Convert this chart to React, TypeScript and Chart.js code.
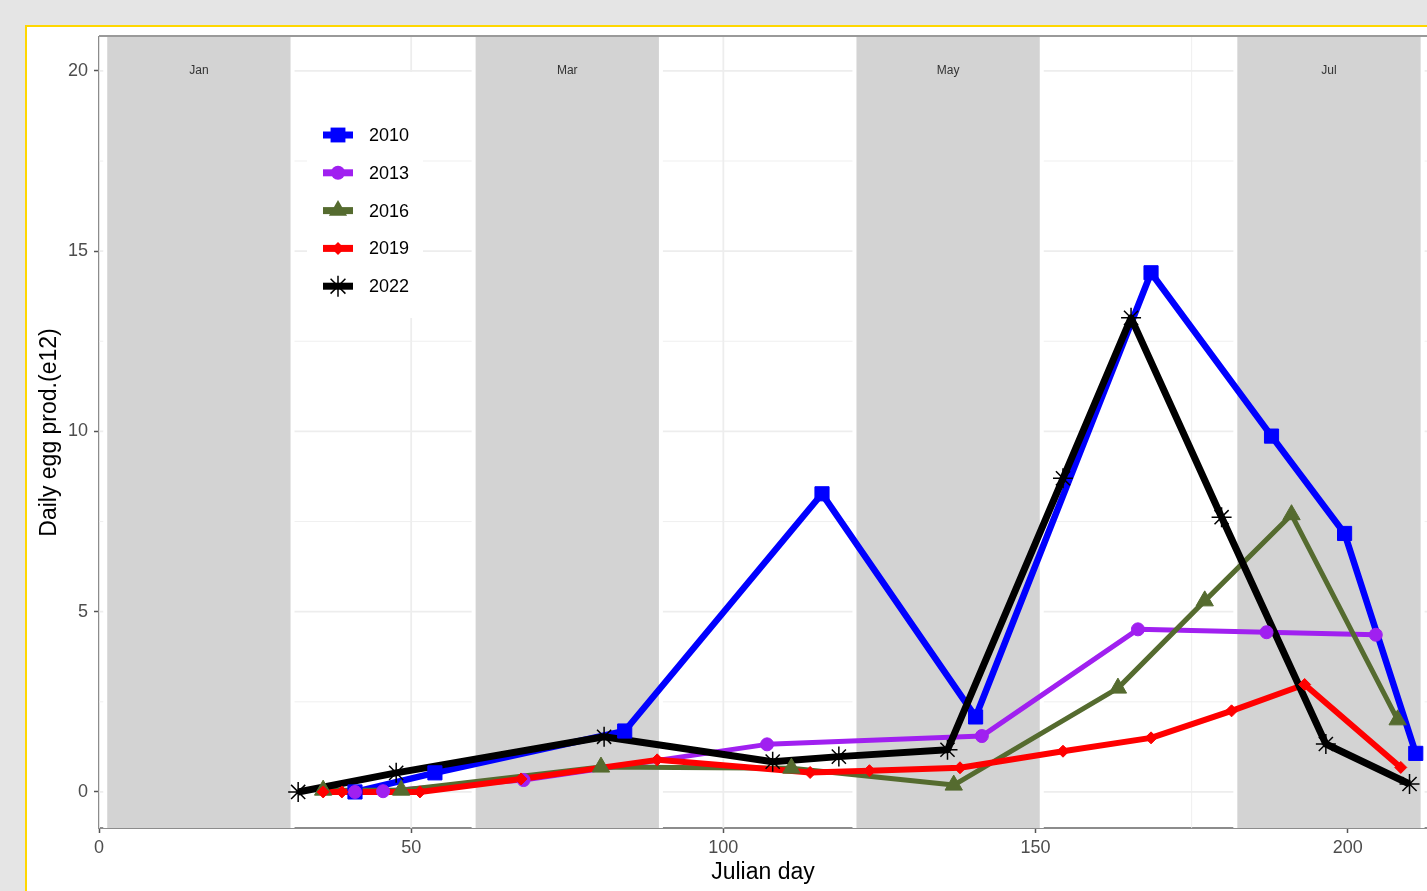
import React, { useEffect, useRef } from 'react';
import { Chart, registerables } from 'chart.js';

Chart.register(...registerables);

const FONT = '"Liberation Sans", Arial, Helvetica, sans-serif';

// ---- Data ----
const seriesNames = ['2010', '2013', '2016', '2019', '2022'];
const seriesColors = ['#0000ff', '#a020f0', '#556b2f', '#ff0000', '#000000'];
const seriesShapes = ['rect', 'circle', 'triangle', 'rectRot', 'star'];
const seriesRadius = [10, 6.5, 10, 6, 10];
const seriesLineWidth = [6.5, 5, 5, 6, 7];

const day2010 = [41, 53.8, 84.2, 115.8, 140.4, 168.5, 187.8, 199.5, 210.9];
const egg2010 = [0, 0.53, 1.69, 8.27, 2.08, 14.4, 9.87, 7.17, 1.07];
const day2013 = [41, 45.5, 68, 107, 141.4, 166.4, 187, 204.5];
const egg2013 = [0, 0.02, 0.33, 1.32, 1.55, 4.51, 4.43, 4.36];
const day2016 = [35.9, 48.4, 80.4, 110.9, 136.9, 163.2, 177.1, 191, 208];
const egg2016 = [0.05, 0.05, 0.69, 0.66, 0.19, 2.88, 5.3, 7.69, 2.0];
const day2019 = [35.9, 38.9, 51.4, 67.6, 89.4, 113.9, 123.4, 137.9, 154.4, 168.5, 181.4, 193.1, 208.5];
const egg2019 = [0, 0, 0, 0.36, 0.89, 0.54, 0.59, 0.67, 1.13, 1.5, 2.25, 2.98, 0.68];
const day2022 = [31.9, 47.6, 80.9, 107.9, 118.5, 135.9, 154.4, 165.3, 179.8, 196.5, 209.9];
const egg2022 = [0, 0.53, 1.53, 0.84, 0.98, 1.17, 8.7, 13.15, 7.62, 1.33, 0.22];

const dayArrays = [day2010, day2013, day2016, day2019, day2022];
const eggArrays = [egg2010, egg2013, egg2016, egg2019, egg2022];

const bandStart = [1, 60, 121, 182];
const bandEnd = [31, 90, 151, 212];
const bandLabels = ['Jan', 'Mar', 'May', 'Jul'];
const bandLabelY = 20;

const xTicks = [0, 50, 100, 150, 200];
const yTicks = [0, 5, 10, 15, 20];
const xGrid = [0, 25, 50, 75, 100, 125, 150, 175, 200];
const yGrid = [0, 2.5, 5, 7.5, 10, 12.5, 15, 17.5, 20];

function drawMarker(ctx: CanvasRenderingContext2D, shape: string, x: number, y: number, r: number, color: string) {
  ctx.save();
  ctx.fillStyle = color;
  ctx.strokeStyle = color;
  ctx.lineWidth = 1;
  ctx.beginPath();
  if (shape === 'rect') {
    const s = Math.SQRT1_2 * r;
    ctx.rect(x - s, y - s, 2 * s, 2 * s);
    ctx.fill();
  } else if (shape === 'circle') {
    ctx.arc(x, y, r, 0, Math.PI * 2);
    ctx.fill();
  } else if (shape === 'triangle') {
    for (let k = 0; k < 3; k++) {
      const a = k * (2 * Math.PI / 3);
      const px = x + Math.sin(a) * r;
      const py = y - Math.cos(a) * r;
      if (k === 0) ctx.moveTo(px, py); else ctx.lineTo(px, py);
    }
    ctx.closePath();
    ctx.fill();
  } else if (shape === 'rectRot') {
    ctx.moveTo(x, y - r);
    ctx.lineTo(x + r, y);
    ctx.lineTo(x, y + r);
    ctx.lineTo(x - r, y);
    ctx.closePath();
    ctx.fill();
  } else if (shape === 'star') {
    ctx.lineWidth = 1.5;
    for (let k = 0; k < 4; k++) {
      const a = k * Math.PI / 4;
      ctx.moveTo(x - Math.cos(a) * r, y - Math.sin(a) * r);
      ctx.lineTo(x + Math.cos(a) * r, y + Math.sin(a) * r);
    }
    ctx.stroke();
  }
  ctx.restore();
}

const backgroundPlugin = {
  id: 'ggBackground',
  beforeDatasetsDraw(chart: any) {
    const { ctx, chartArea: a, scales } = chart;
    const xs = scales.x;
    const ys = scales.y;
    ctx.save();
    ctx.beginPath();
    ctx.rect(a.left, a.top, a.right - a.left, a.bottom - a.top);
    ctx.clip();
    // grid lines
    ctx.strokeStyle = '#ededed';
    xGrid.forEach((v) => {
      const px = xs.getPixelForValue(v);
      ctx.lineWidth = v % 50 === 0 ? 1.8 : 0.9;
      ctx.beginPath();
      ctx.moveTo(px, a.top);
      ctx.lineTo(px, a.bottom);
      ctx.stroke();
    });
    yGrid.forEach((v) => {
      const py = ys.getPixelForValue(v);
      ctx.lineWidth = v % 5 === 0 ? 1.8 : 0.9;
      ctx.beginPath();
      ctx.moveTo(a.left, py);
      ctx.lineTo(a.right, py);
      ctx.stroke();
    });
    // month bands
    bandStart.forEach((s, i) => {
      const x1 = xs.getPixelForValue(s);
      const x2 = xs.getPixelForValue(bandEnd[i]);
      ctx.fillStyle = '#d3d3d3';
      ctx.fillRect(x1, a.top - 20, x2 - x1, a.bottom - a.top + 40);
      ctx.strokeStyle = '#ffffff';
      ctx.lineWidth = 4;
      ctx.strokeRect(x1, a.top - 20, x2 - x1, a.bottom - a.top + 40);
      ctx.fillStyle = '#333333';
      ctx.font = `12px ${FONT}`;
      ctx.textAlign = 'center';
      ctx.textBaseline = 'middle';
      ctx.fillText(bandLabels[i], (x1 + x2) / 2, ys.getPixelForValue(bandLabelY));
    });
    ctx.restore();

    // top panel border
    ctx.save();
    ctx.strokeStyle = '#9a9a9a';
    ctx.lineWidth = 2;
    ctx.beginPath();
    ctx.moveTo(a.left, a.top - 1);
    ctx.lineTo(a.right, a.top - 1);
    ctx.stroke();
    ctx.restore();

    // legend
    ctx.save();
    ctx.fillStyle = '#ffffff';
    ctx.fillRect(307, 72, 116, 246);
    const keyY0 = 135;
    const keyStep = 37.8;
    seriesNames.forEach((name, i) => {
      const cy = keyY0 + i * keyStep;
      ctx.strokeStyle = seriesColors[i];
      ctx.lineWidth = 7;
      ctx.beginPath();
      ctx.moveTo(323, cy);
      ctx.lineTo(353, cy);
      ctx.stroke();
      drawMarker(ctx, seriesShapes[i], 338, cy, seriesRadius[i] + 0.5, seriesColors[i]);
      ctx.fillStyle = '#000000';
      ctx.font = `18px ${FONT}`;
      ctx.textAlign = 'left';
      ctx.textBaseline = 'middle';
      ctx.fillText(name, 369, cy + 1);
    });
    ctx.restore();
  },
};

export default function App() {
  const ref = useRef<HTMLCanvasElement>(null);

  useEffect(() => {
    const canvas = ref.current;
    if (!canvas) return;

    const lineSets = seriesNames.map((name, i) => ({
      label: name,
      data: dayArrays[i].map((d, j) => ({ x: d, y: eggArrays[i][j] })),
      borderColor: seriesColors[i],
      backgroundColor: seriesColors[i],
      borderWidth: seriesLineWidth[i],
      borderJoinStyle: 'round' as const,
      pointRadius: 0,
      showLine: true,
      tension: 0,
      order: 20 - i,
    }));
    const pointSets = seriesNames.map((name, i) => ({
      label: name + ' pts',
      data: dayArrays[i].map((d, j) => ({ x: d, y: eggArrays[i][j] })),
      showLine: false,
      pointStyle: seriesShapes[i],
      pointRadius: seriesRadius[i],
      pointBorderWidth: seriesShapes[i] === 'star' ? 1.5 : 1,
      pointBackgroundColor: seriesColors[i],
      pointBorderColor: seriesColors[i],
      borderColor: seriesColors[i],
      backgroundColor: seriesColors[i],
      order: 10 - i,
    }));

    const chart = new Chart(canvas, {
      type: 'scatter',
      data: { datasets: [...lineSets, ...pointSets] as any },
      options: {
        responsive: false,
        animation: false,
        layout: { autoPadding: false, padding: { top: 37, left: 0, right: 0, bottom: 0 } },
        plugins: { legend: { display: false }, tooltip: { enabled: false } },
        scales: {
          x: {
            type: 'linear',
            min: 0,
            max: 212.7,
            afterBuildTicks: (s: any) => {
              s.ticks = xTicks.map((v) => ({ value: v }));
            },
            afterFit: (s: any) => {
              s.height = 63;
              s.paddingLeft = 0;
              s.paddingRight = 0;
            },
            grid: { drawOnChartArea: false, drawTicks: true, tickLength: 5, tickColor: '#555555', tickWidth: 1.5 },
            border: { display: true, color: '#8c8c8c', width: 2 },
            ticks: {
              font: { family: FONT, size: 18 },
              color: '#4d4d4d',
              padding: 4,
              maxRotation: 0,
              autoSkip: false,
              callback: (v: any) => String(v),
            },
            title: {
              display: true,
              text: 'Julian day',
              font: { family: FONT, size: 23 },
              color: '#000000',
              padding: { top: 0, bottom: 5 },
            },
          },
          y: {
            type: 'linear',
            min: -1,
            max: 20.94,
            afterBuildTicks: (s: any) => {
              s.ticks = yTicks.map((v) => ({ value: v }));
            },
            afterFit: (s: any) => {
              s.width = 99;
              s.paddingTop = 0;
              s.paddingBottom = 0;
            },
            grid: { drawOnChartArea: false, drawTicks: true, tickLength: 5, tickColor: '#555555', tickWidth: 1.5 },
            border: { display: true, color: '#8c8c8c', width: 2 },
            ticks: {
              font: { family: FONT, size: 18 },
              color: '#4d4d4d',
              padding: 6,
              autoSkip: false,
              callback: (v: any) => String(v),
            },
            title: {
              display: true,
              text: 'Daily egg prod.(e12)',
              font: { family: FONT, size: 23 },
              color: '#000000',
              padding: { top: 36, bottom: 0 },
            },
          },
        },
      },
      plugins: [backgroundPlugin],
    });

    return () => {
      chart.destroy();
    };
  }, []);

  return (
    <div
      style={{
        position: 'fixed',
        left: 0,
        top: 0,
        width: 1427,
        height: 891,
        overflow: 'hidden',
        background: '#e5e5e5',
      }}
    >
      <div
        style={{
          position: 'absolute',
          left: 25,
          top: 25,
          width: 1500,
          height: 1000,
          border: '2px solid #ffd700',
          background: '#ffffff',
        }}
      />
      <canvas
        ref={ref}
        width={1427}
        height={891}
        style={{ position: 'absolute', left: 0, top: 0, width: 1427, height: 891 }}
      />
    </div>
  );
}
